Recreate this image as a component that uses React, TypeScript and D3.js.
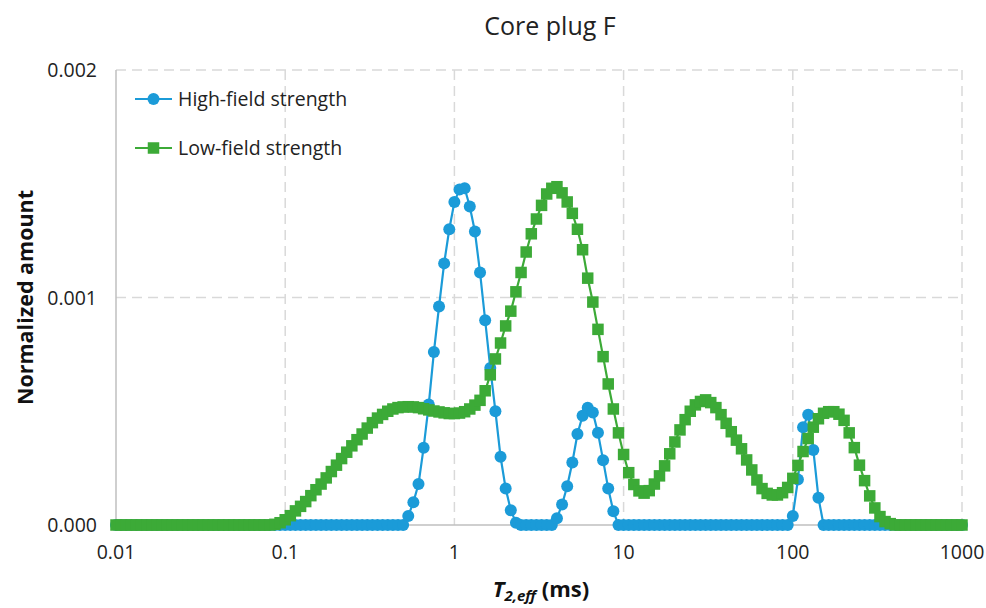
import React from "react";
import * as d3 from "d3";

// Sampling grid: log-spaced relaxation times (33 per decade, 0.01–1000 ms)
const POINTS_PER_DECADE = 33;
const T2_GRID: number[] = d3.range(0, 5 * POINTS_PER_DECADE + 1).map((i) => Math.pow(10, -2 + i / POINTS_PER_DECADE));

// Values in units of 1e-3 (normalized amount)
const highField: number[] = [
  0, 0, 0, 0, 0, 0, 0, 0, 0, 0, 0,
  0, 0, 0, 0, 0, 0, 0, 0, 0, 0, 0,
  0, 0, 0, 0, 0, 0, 0, 0, 0, 0, 0,
  0, 0, 0, 0, 0, 0, 0, 0, 0, 0, 0,
  0, 0, 0, 0, 0, 0, 0, 0, 0, 0, 0,
  0, 0,
  0.04, 0.1, 0.18, 0.34, 0.53, 0.76, 0.96, 1.15, 1.3, 1.42, 1.475,
  1.48, 1.4, 1.29, 1.11, 0.9, 0.69, 0.5, 0.3, 0.16, 0.065, 0.01,
  0, 0, 0, 0, 0, 0, 0,
  0.03, 0.09, 0.17, 0.275, 0.4, 0.48, 0.515, 0.495, 0.405, 0.285, 0.16, 0.06,
  0, 0, 0, 0, 0, 0, 0, 0, 0, 0, 0,
  0, 0, 0, 0, 0, 0, 0, 0, 0, 0, 0,
  0, 0, 0, 0, 0, 0, 0, 0, 0, 0, 0,
  0,
  0.04, 0.2, 0.43, 0.485, 0.33, 0.12,
  0, 0, 0, 0, 0, 0, 0, 0, 0, 0, 0,
  0, 0, 0, 0, 0, 0, 0, 0, 0, 0, 0,
  0, 0, 0, 0, 0, 0,
];

const lowField: number[] = [
  0, 0, 0, 0, 0, 0, 0, 0, 0, 0, 0,
  0, 0, 0, 0, 0, 0, 0, 0, 0, 0, 0,
  0, 0, 0, 0, 0, 0, 0, 0, 0,
  0.003, 0.01, 0.023, 0.041, 0.062, 0.082, 0.103, 0.129, 0.155, 0.18,
  0.207, 0.235, 0.263, 0.292, 0.32, 0.348, 0.375, 0.4, 0.426, 0.45,
  0.47, 0.486, 0.5, 0.51, 0.516, 0.519, 0.52, 0.519, 0.516, 0.511,
  0.506, 0.501, 0.497, 0.493, 0.49, 0.49, 0.492, 0.498, 0.51, 0.527,
  0.548, 0.59, 0.66, 0.73, 0.8, 0.875, 0.94, 1.025, 1.11, 1.2,
  1.28, 1.345, 1.405, 1.455, 1.48, 1.487, 1.46, 1.42, 1.37, 1.3,
  1.21, 1.085, 0.98, 0.86, 0.74, 0.62, 0.51, 0.405, 0.31, 0.23,
  0.178, 0.15, 0.14, 0.151, 0.18, 0.216, 0.26, 0.313, 0.365, 0.418,
  0.463, 0.5, 0.528, 0.543, 0.55, 0.538, 0.516, 0.485, 0.447, 0.41,
  0.373, 0.335, 0.286, 0.242, 0.198, 0.16, 0.139, 0.132, 0.132, 0.142,
  0.165, 0.205, 0.262, 0.323, 0.38, 0.43, 0.467, 0.491, 0.498, 0.498,
  0.487, 0.46, 0.405, 0.34, 0.263, 0.195, 0.128, 0.075, 0.037, 0.015,
  0.006,
  0, 0, 0, 0, 0, 0, 0, 0, 0, 0, 0, 0, 0, 0,
];

const X_TICKS = [0.01, 0.1, 1, 10, 100, 1000];
const X_TICK_LABELS = ["0.01", "0.1", "1", "10", "100", "1000"];
const Y_TICKS = [0, 0.001, 0.002];
const Y_TICK_LABELS = ["0.000", "0.001", "0.002"];
const SERIES_NAMES = ["High-field strength", "Low-field strength"];
const UNIT = 1e-3;

const W = 986;
const H = 608;
const FONT = "'Open Sans', 'Noto Sans', sans-serif";
const BLUE = "#1b9bd8";
const GREEN = "#3caa37";
const R = 6;
const SQ = 11.5;

export default function App() {
  const x = d3.scaleLog().domain([0.01, 1000]).range([116, 962]);
  const y = d3.scaleLinear().domain([0, 0.002]).range([525, 70]);

  const hi = T2_GRID.map((t, i) => ({ t, v: highField[i] * UNIT }));
  const lo = T2_GRID.map((t, i) => ({ t, v: lowField[i] * UNIT }));
  const line = d3
    .line<{ t: number; v: number }>()
    .x((d) => x(d.t))
    .y((d) => y(d.v));

  const legendY = [99, 148];

  return (
    <svg
      width={W}
      height={H}
      style={{ position: "absolute", left: 0, top: 0, background: "#fff" }}
      fontFamily={FONT}
    >
      <rect x={0} y={0} width={W} height={H} fill="#fff" />
      {/* title */}
      <text x={550} y={35} textAnchor="middle" fontSize={25} fill="#222">
        Core plug F
      </text>

      {/* gridlines */}
      {X_TICKS.slice(1).map((t) => (
        <line
          key={"gx" + t}
          x1={x(t)}
          x2={x(t)}
          y1={y(0.002)}
          y2={y(0)}
          stroke="#d9d9d9"
          strokeWidth={1.5}
          strokeDasharray="10,6"
        />
      ))}
      {Y_TICKS.slice(1).map((v) => (
        <line
          key={"gy" + v}
          x1={x(0.01)}
          x2={x(1000)}
          y1={y(v)}
          y2={y(v)}
          stroke="#d9d9d9"
          strokeWidth={1.5}
          strokeDasharray="10,6"
        />
      ))}
      {/* axes */}
      <line x1={x(0.01)} x2={x(0.01)} y1={y(0.002)} y2={y(0)} stroke="#bfbfbf" strokeWidth={1.5} />
      <line x1={x(0.01)} x2={x(1000)} y1={y(0)} y2={y(0)} stroke="#bfbfbf" strokeWidth={1.5} />

      {/* y tick labels */}
      {Y_TICKS.map((v, i) => (
        <text key={"yl" + v} x={97} y={y(v) + 7} textAnchor="end" fontSize={19.5} fill="#222">
          {Y_TICK_LABELS[i]}
        </text>
      ))}
      {/* x tick labels */}
      {X_TICKS.map((t, i) => (
        <text key={"xl" + t} x={x(t)} y={559} textAnchor="middle" fontSize={19.5} fill="#222">
          {X_TICK_LABELS[i]}
        </text>
      ))}

      {/* axis titles */}
      <text
        transform={`translate(33, ${y(0.001)}) rotate(-90)`}
        textAnchor="middle"
        fontSize={21.5}
        fontWeight="bold"
        fill="#111"
      >
        Normalized amount
      </text>
      <text x={541} y={597} textAnchor="middle" fontSize={22} fontWeight="bold" fill="#111">
        <tspan fontStyle="italic">T</tspan>
        <tspan fontStyle="italic" fontSize={15} dy={4}>
          2,eff
        </tspan>
        <tspan dy={-4}> (ms)</tspan>
      </text>

      {/* high-field series */}
      <path d={line(hi) || ""} fill="none" stroke={BLUE} strokeWidth={2.2} />
      {hi.map((d, i) => (
        <circle key={"h" + i} cx={x(d.t)} cy={y(d.v)} r={R} fill={BLUE} />
      ))}
      {/* low-field series */}
      <path d={line(lo) || ""} fill="none" stroke={GREEN} strokeWidth={2.2} />
      {lo.map((d, i) => (
        <rect key={"l" + i} x={x(d.t) - SQ / 2} y={y(d.v) - SQ / 2} width={SQ} height={SQ} fill={GREEN} />
      ))}

      {/* legend */}
      <line x1={135} x2={172} y1={legendY[0]} y2={legendY[0]} stroke={BLUE} strokeWidth={2.2} />
      <circle cx={153.5} cy={legendY[0]} r={R} fill={BLUE} />
      <text x={178} y={legendY[0] + 6.5} fontSize={19.5} fill="#222">
        {SERIES_NAMES[0]}
      </text>
      <line x1={135} x2={172} y1={legendY[1]} y2={legendY[1]} stroke={GREEN} strokeWidth={2.2} />
      <rect x={153.5 - SQ / 2} y={legendY[1] - SQ / 2} width={SQ} height={SQ} fill={GREEN} />
      <text x={178} y={legendY[1] + 6.5} fontSize={19.5} fill="#222">
        {SERIES_NAMES[1]}
      </text>
    </svg>
  );
}
